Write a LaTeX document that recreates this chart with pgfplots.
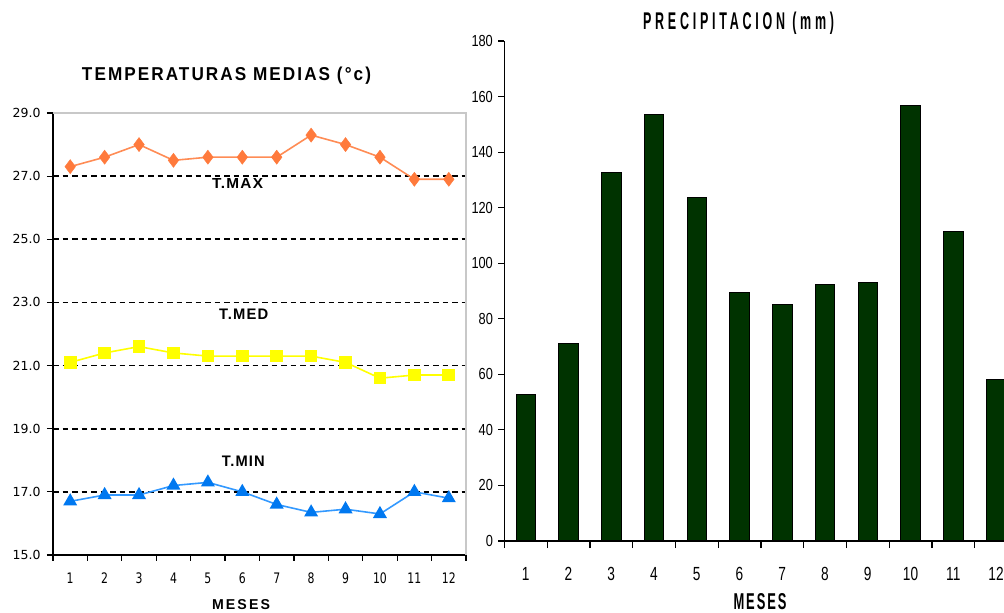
\documentclass[border=0pt]{standalone}
\usepackage{fontspec}
\setmainfont{Liberation Sans}
\newfontfamily\dv{DejaVu Sans}
\newfontfamily\ls{Liberation Sans}
\usepackage{graphicx}
\usepackage{pgfplots}
\pgfplotsset{compat=1.18}

\definecolor{tmaxline}{HTML}{FF8C55}
\definecolor{tmaxmark}{HTML}{FF7A3C}
\definecolor{tmed}{HTML}{FFFF00}
\definecolor{tminline}{HTML}{3399FF}
\definecolor{tminmark}{HTML}{0078F0}
\definecolor{barfill}{HTML}{003300}
\definecolor{bordergray}{HTML}{C8C8C8}

\newcommand{\ly}[1]{{\dv\fontsize{12.5}{12.5}\selectfont #1}}
\newcommand{\lx}[1]{\scalebox{0.75}[1]{\dv\fontsize{14.5}{14.5}\selectfont #1}}
\newcommand{\ry}[1]{\scalebox{0.8}[1]{\ls\fontsize{16}{16}\selectfont #1}}
\newcommand{\rx}[1]{\scalebox{0.72}[1]{\ls\fontsize{19}{19}\selectfont #1}}

\begin{document}
\begin{tikzpicture}
% ---------------- left: temperatures ----------------
\begin{axis}[
  at={(53pt,58pt)}, anchor=south west, scale only axis,
  width=413pt, height=442pt,
  xmin=0.5, xmax=12.5, ymin=15, ymax=29,
  axis lines=left, axis line style={-, black, line width=1.3pt},
  clip=false,
  xtick={1,2,3,4,5,6,7,8,9,10,11,12},
  xticklabels={\lx{1},\lx{2},\lx{3},\lx{4},\lx{5},\lx{6},\lx{7},\lx{8},\lx{9},\lx{10},\lx{11},\lx{12}},
  xticklabel style={yshift=-8pt},
  yticklabel style={xshift=-3pt},
  major x tick style={draw=none},
  minor xtick={0.5,1.5,2.5,3.5,4.5,5.5,6.5,7.5,8.5,9.5,10.5,11.5,12.5},
  tick align=outside, major tick length=6pt, minor tick length=6pt,
  tick style={black, line width=1.2pt},
  ytick={15,17,19,21,23,25,27,29},
  yticklabels={\ly{15.0},\ly{17.0},\ly{19.0},\ly{21.0},\ly{23.0},\ly{25.0},\ly{27.0},\ly{29.0}},
  extra y ticks={17,19,21,23,25,27},
  extra y tick labels={},
  extra y tick style={grid=major, major tick length=0pt},
  major grid style={black, line width=1.6pt, dash pattern=on 5.5pt off 4pt},
]
\draw[bordergray, line width=1.2pt] (axis cs:0.5,29) -- (axis cs:12.5,29) -- (axis cs:12.5,15);
\addplot[color=tmaxline, line width=1.6pt, mark=diamond*, mark size=7pt,
  mark options={fill=tmaxmark, draw=tmaxmark, line width=0.5pt}]
  coordinates {(1,27.3) (2,27.6) (3,28.0) (4,27.5) (5,27.6) (6,27.6) (7,27.6) (8,28.3) (9,28.0) (10,27.6) (11,26.9) (12,26.9)};
\addplot[color=tmed, line width=1.6pt, mark=square*, mark size=5.5pt,
  mark options={fill=tmed, draw=tmed}]
  coordinates {(1,21.1) (2,21.4) (3,21.6) (4,21.4) (5,21.3) (6,21.3) (7,21.3) (8,21.3) (9,21.1) (10,20.6) (11,20.7) (12,20.7)};
\addplot[color=tminline, line width=1.6pt, mark=triangle*, mark size=6.5pt,
  mark options={fill=tminmark, draw=tminmark}]
  coordinates {(1,16.7) (2,16.9) (3,16.9) (4,17.2) (5,17.3) (6,17.0) (7,16.6) (8,16.35) (9,16.45) (10,16.3) (11,17.0) (12,16.8)};
\end{axis}

% ---------------- right: precipitation ----------------
\begin{axis}[
  at={(504.4pt,72pt)}, anchor=south west, scale only axis,
  width=513pt, height=500pt,
  xmin=0.5, xmax=12.5, ymin=0, ymax=180,
  axis lines=left, axis line style={-, black, line width=1.3pt},
  ybar, bar width=19.5pt,
  xtick={1,2,3,4,5,6,7,8,9,10,11,12},
  xticklabels={\rx{1},\rx{2},\rx{3},\rx{4},\rx{5},\rx{6},\rx{7},\rx{8},\rx{9},\rx{10},\rx{11},\rx{12}},
  xticklabel style={yshift=-17pt},
  major x tick style={draw=none},
  minor xtick={0.5,1.5,2.5,3.5,4.5,5.5,6.5,7.5,8.5,9.5,10.5,11.5,12.5},
  ytick={0,20,40,60,80,100,120,140,160,180},
  yticklabels={\ry{0},\ry{20},\ry{40},\ry{60},\ry{80},\ry{100},\ry{120},\ry{140},\ry{160},\ry{180}},
  yticklabel style={xshift=-2pt},
  tick align=outside, major tick length=6pt, minor tick length=7pt,
  tick style={black, line width=1.2pt},
]
\addplot[fill=barfill, draw=black, line width=1pt]
  coordinates {(1,52.9) (2,71.1) (3,132.5) (4,153.7) (5,123.8) (6,89.5) (7,85.1) (8,92.4) (9,93.1) (10,156.7) (11,111.3) (12,58)};
\end{axis}

% ---------------- texts ----------------
\node[anchor=base, inner sep=0] at (226.5pt,532.3pt)
  {\resizebox{289pt}{13.5pt}{\ls\bfseries\addfontfeature{LetterSpace=12}TEMPERATURAS MEDIAS (°c)}};
\node[anchor=base, inner sep=0] at (237.5pt,424.7pt)
  {\resizebox{51pt}{10pt}{\ls\bfseries\addfontfeature{LetterSpace=8}T.MAX}};
\node[anchor=base, inner sep=0] at (243.7pt,293pt)
  {\resizebox{49pt}{10.5pt}{\ls\bfseries\addfontfeature{LetterSpace=8}T.MED}};
\node[anchor=base, inner sep=0] at (243.3pt,146.3pt)
  {\resizebox{43pt}{10.5pt}{\ls\bfseries\addfontfeature{LetterSpace=8}T.MIN}};
\node[anchor=base, inner sep=0] at (241pt,3pt)
  {\resizebox{58pt}{10pt}{\ls\bfseries\addfontfeature{LetterSpace=15}MESES}};
\node[anchor=base, inner sep=0] at (738.6pt,583pt)
  {\resizebox{191pt}{17.5pt}{\ls\bfseries\addfontfeature{LetterSpace=30}PRECIPITACION (mm)}};
\node[anchor=base, inner sep=0] at (760pt,4pt)
  {\resizebox{53pt}{16pt}{\ls\bfseries\addfontfeature{LetterSpace=15}MESES}};

\pgfresetboundingbox
\path[use as bounding box] (0,0) rectangle (1004pt,613pt);
\end{tikzpicture}
\end{document}
